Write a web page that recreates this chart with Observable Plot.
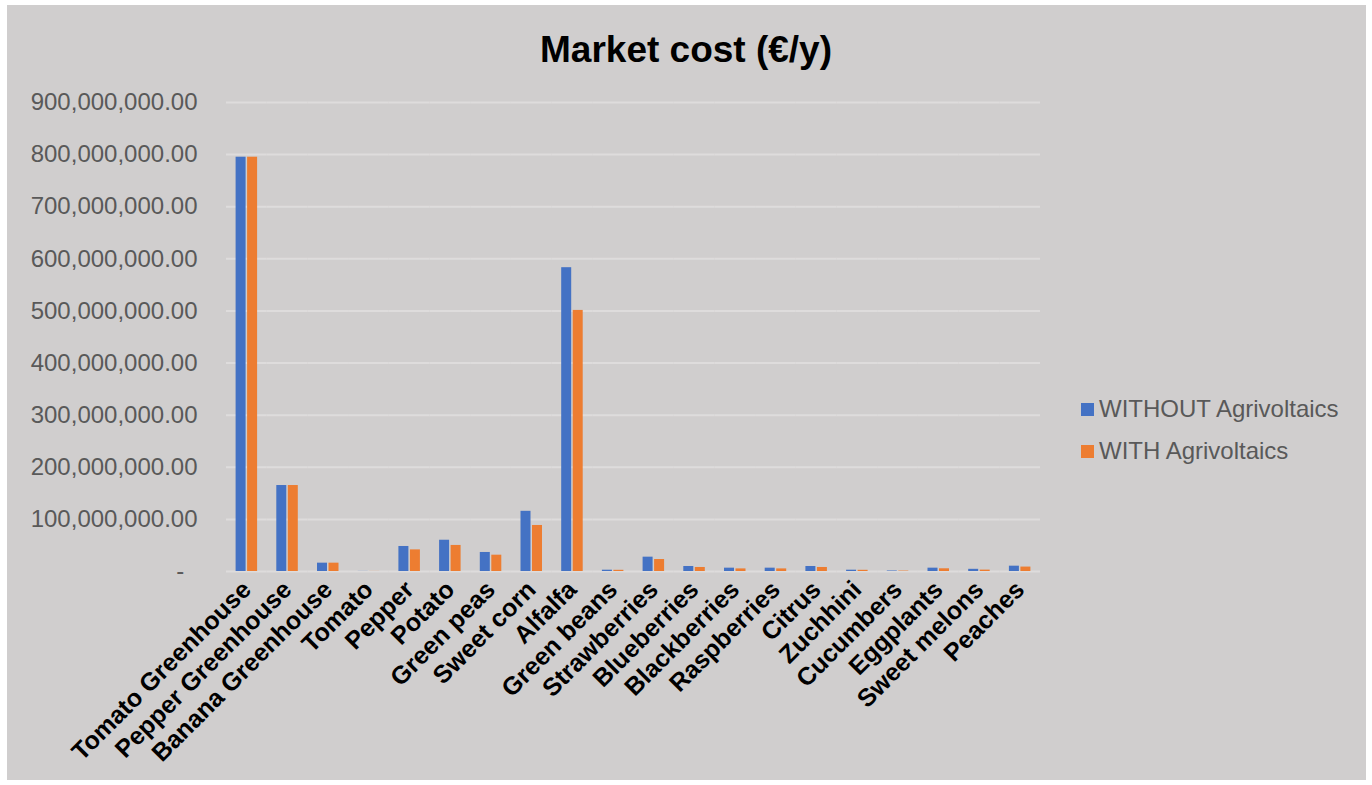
<!DOCTYPE html>
<html>
<head>
<meta charset="utf-8">
<script src="https://cdn.jsdelivr.net/npm/d3@7"></script>
<script src="https://cdn.jsdelivr.net/npm/@observablehq/plot@0.6"></script>
<style>
  html, body { margin: 0; padding: 0; background: #ffffff; }
  #frame { position: absolute; left: 7px; top: 5px; width: 1359px; height: 775px; background: #d0cece; overflow: hidden; font-family: "Liberation Sans", Arial, sans-serif; }
  #chart { position: absolute; left: 0; top: 0; }
  #title { position: absolute; left: -7px; width: 1372px; top: 26px; text-align: center; font-size: 37px; line-height: 37px; font-weight: bold; color: #000; }
  .leg { position: absolute; left: 1074px; font-size: 24px; line-height: 24px; color: #595959; white-space: nowrap; }
  .sw { position: absolute; left: 0; top: 6px; width: 13px; height: 13px; }
  .lt { position: absolute; left: 18px; top: 0; }
</style>
</head>
<body>
<div id="frame">
  <div id="chart"></div>
  <div id="title">Market cost (€/y)</div>
  <div id="legend"></div>
</div>
<script>
const categories = ["Tomato Greenhouse", "Pepper Greenhouse", "Banana Greenhouse", "Tomato", "Pepper", "Potato", "Green peas", "Sweet corn", "Alfalfa", "Green beans", "Strawberries", "Blueberries", "Blackberries", "Raspberries", "Citrus", "Zuchhini", "Cucumbers", "Eggplants", "Sweet melons", "Peaches"];
const seriesNames = ["WITHOUT Agrivoltaics", "WITH Agrivoltaics"];
const seriesColors = ["#4472C4", "#ED7D31"];
const withoutValues = [795e6, 165e6, 16e6, 0.2e6, 48e6, 60e6, 36.5e6, 115.5e6, 583e6, 2.5e6, 27.5e6, 9.6e6, 6.4e6, 6.4e6, 9.6e6, 2.5e6, 1e6, 6.4e6, 4.2e6, 10.2e6];
const withValues    = [795e6, 165e6, 16e6, 0.15e6, 41.5e6, 50e6, 31.3e6, 88.3e6, 501e6, 2.3e6, 23e6, 7.7e6, 5e6, 5e6, 7.7e6, 2.3e6, 0.8e6, 5.2e6, 2.7e6, 8.5e6];
const yTicks = [0, 100e6, 200e6, 300e6, 400e6, 500e6, 600e6, 700e6, 800e6, 900e6];

const data = [];
categories.forEach((c, i) => {
  data.push({category: c, series: seriesNames[0], value: withoutValues[i]});
  data.push({category: c, series: seriesNames[1], value: withValues[i]});
});

const fmt = d3.format(",.2f");

const chart = Plot.plot({
  width: 1359,
  height: 775,
  marginLeft: 219,
  marginRight: 326,
  marginTop: 97,
  marginBottom: 209,
  style: {background: "transparent", fontFamily: "Liberation Sans, Arial, sans-serif", overflow: "visible"},
  fx: {domain: categories, padding: 0, round: false, label: null},
  x: {domain: seriesNames, paddingInner: 0.13, paddingOuter: 0.835, round: false, axis: null},
  y: {domain: [0, 900e6], label: null},
  color: {domain: seriesNames, range: seriesColors},
  marks: [
    Plot.gridY(yTicks, {stroke: "#dedcdc", strokeOpacity: 1, strokeWidth: 2}),
    Plot.barY(data, {fx: "category", x: "series", y: "value", fill: "series"}),
    Plot.axisY(yTicks, {
      tickSize: 0, tickPadding: 29, fontSize: 24, fill: "#595959", label: null,
      tickFormat: d => d === 0 ? "-\u00a0\u00a0" : fmt(d)
    }),
    Plot.axisFx({
      anchor: "bottom", tickSize: 0, tickPadding: 14, tickRotate: -45, fontSize: 25, fontWeight: "bold", fill: "#000", label: null
    })
  ]
});
document.getElementById("chart").appendChild(chart);

const legend = document.getElementById("legend");
seriesNames.forEach((s, i) => {
  const row = document.createElement("div");
  row.className = "leg";
  row.style.top = (392 + i * 42) + "px";
  row.innerHTML = `<div class="sw" style="background:${seriesColors[i]}"></div><div class="lt">${s}</div>`;
  legend.appendChild(row);
});
</script>
</body>
</html>
